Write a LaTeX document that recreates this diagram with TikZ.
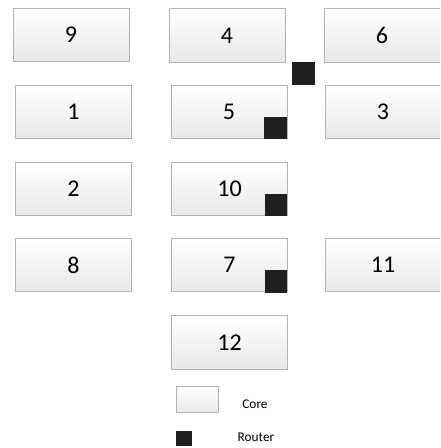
\documentclass[tikz,border=0pt]{standalone}
\usepackage{fontspec}
\setmainfont{Carlito}
\begin{document}
\begin{tikzpicture}[x=0.75pt,y=-0.75pt,
  core/.style={draw=black!30, line width=0.6pt, top color=white, bottom color=black!9,
    font=\fontsize{18}{20}\selectfont, inner sep=0pt, minimum width=87pt, minimum height=40pt},
  coreedge/.style={core, minimum width=93pt},
  router/.style={fill=black!88, draw=none, inner sep=0pt, minimum size=17pt},
  small/.style={font=\fontsize{10}{12}\selectfont}]
\useasboundingbox (0,0) rectangle (440,448);
\clip (0,0) rectangle (440,448);
% cores
\node[core] (c9) at (71,35) {9};
\node[core] (c4) at (227,35.5) {4};
\node[coreedge] (c6) at (386,35.5) {};
\node (t6) at (382,35.5) [font=\fontsize{18}{20}\selectfont] {6};
\node[core] (c1) at (73.5,112) {1};
\node[core] (c5) at (229,112) {5};
\node[coreedge] (c3) at (387,112) {};
\node (t3) at (383,112) [font=\fontsize{18}{20}\selectfont] {3};
\node[core] (c2) at (73.5,189) {2};
\node[core] (c10) at (229.5,189) {10};
\node[core] (c8) at (73.5,265) {8};
\node[core] (c7) at (229.5,265) {7};
\node[coreedge] (c11) at (387,265) {};
\node (t11) at (383,265) [font=\fontsize{18}{20}\selectfont] {11};
\node[core] (c12) at (229.5,342.5) {12};
% routers
\node[router] (r0) at (303.5,73.5) {};
\node[router] (r5) at (275.5,128) {};
\node[router] (r10) at (276,205) {};
\node[router] (r7) at (276,281.5) {};
% legend
\node[core, minimum width=32pt, minimum height=19pt] (lc) at (197.5,399.5) {};
\node[small] (lcore) at (255,404) {Core};
\node[router, minimum size=11.5pt] (lr) at (184,438.5) {};
\node[small] (lrouter) at (256,437) {Router};
\end{tikzpicture}
\end{document}
